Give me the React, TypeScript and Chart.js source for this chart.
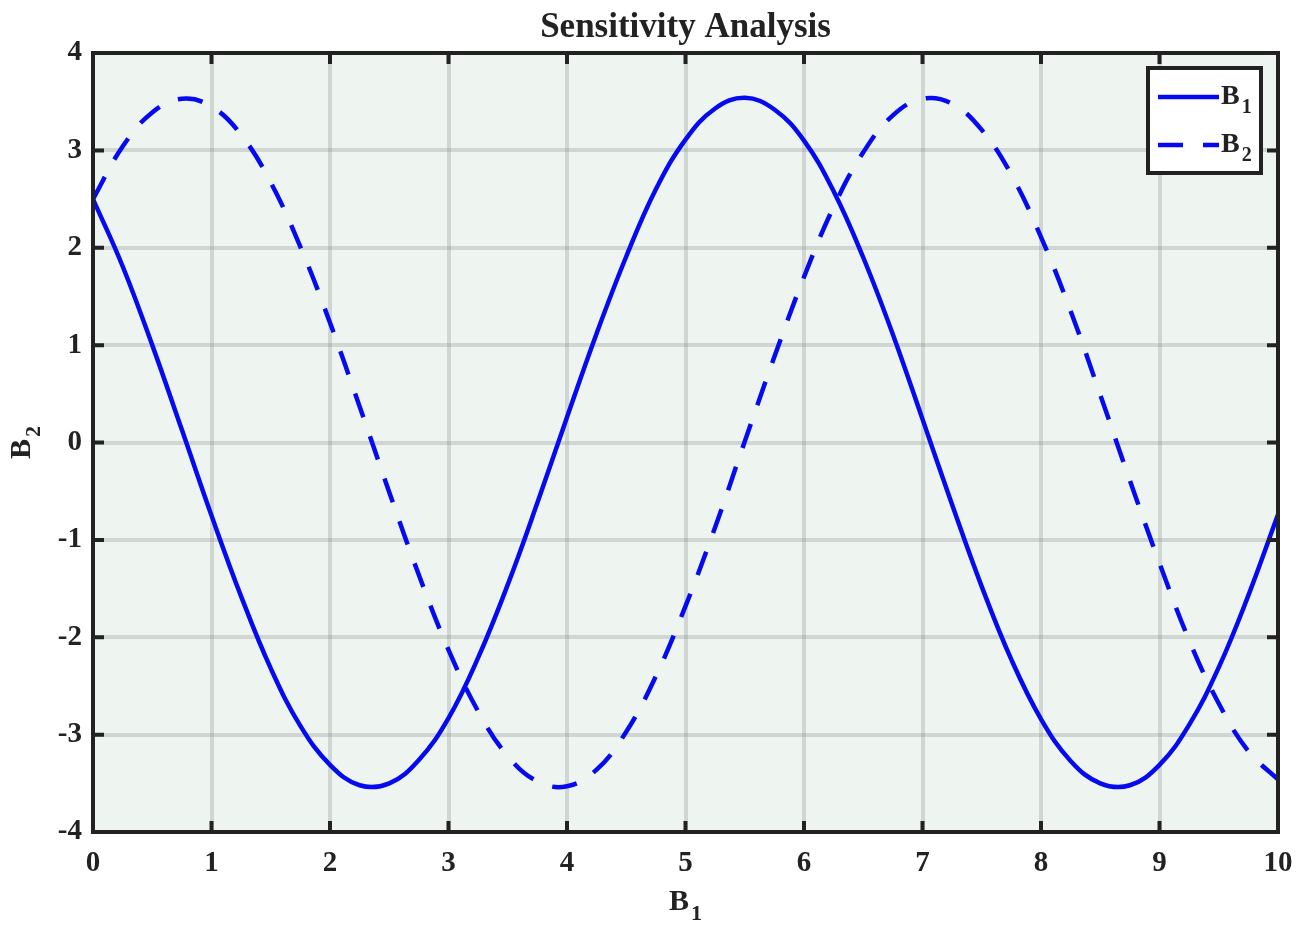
import React, { useEffect, useRef } from "react";
import { Chart, registerables } from "chart.js";

Chart.register(...registerables);

// ---- data ----
const xValues = [
  0, 0.25, 0.5, 0.75, 1, 1.25, 1.5, 1.75, 2, 2.25, 2.5, 2.75, 3, 3.25, 3.5, 3.75, 4,
  4.25, 4.5, 4.75, 5, 5.25, 5.5, 5.75, 6, 6.25, 6.5, 6.75, 7, 7.25, 7.5, 7.75, 8,
  8.25, 8.5, 8.75, 9, 9.25, 9.5, 9.75, 10,
];
const b1Values = [
  2.5, 1.81, 1.0, 0.13, -0.75, -1.58, -2.32, -2.91, -3.31, -3.52, -3.5, -3.26, -2.83,
  -2.21, -1.46, -0.62, 0.26, 1.12, 1.91, 2.6, 3.11, 3.43, 3.54, 3.42, 3.1, 2.58, 1.9,
  1.11, 0.24, -0.64, -1.48, -2.23, -2.84, -3.27, -3.5, -3.52, -3.31, -2.9, -2.31,
  -1.57, -0.74,
];
const b2Values = [
  2.5, 3.04, 3.39, 3.53, 3.45, 3.16, 2.67, 2.01, 1.23, 0.37, -0.51, -1.36, -2.13,
  -2.76, -3.22, -3.48, -3.53, -3.36, -2.97, -2.4, -1.68, -0.87, 0.01, 0.88, 1.7, 2.42,
  2.98, 3.36, 3.53, 3.48, 3.21, 2.75, 2.11, 1.35, 0.49, -0.39, -1.24, -2.03, -2.68,
  -3.17, -3.46,
];
const xTickValues = [0, 1, 2, 3, 4, 5, 6, 7, 8, 9, 10];
const yTickValues = [-4, -3, -2, -1, 0, 1, 2, 3, 4];
const seriesNames = ["B1", "B2"];
const titleText = "Sensitivity Analysis";
const xAxisTitle = ["B", "1"];
const yAxisTitle = ["B", "2"];

const FONT = "'Liberation Serif', 'Times New Roman', serif";
const LINE_COLOR = "rgb(5, 10, 240)";
const DARK = "#222222";
const DASH = [25, 20];

function drawSub(
  ctx: CanvasRenderingContext2D,
  base: string,
  sub: string,
  x: number,
  y: number,
  size: number,
  subSize: number,
  subDrop: number,
  align: "left" | "center"
) {
  ctx.font = `bold ${size}px ${FONT}`;
  const bw = ctx.measureText(base).width;
  ctx.font = `bold ${subSize}px ${FONT}`;
  const sw = ctx.measureText(sub).width;
  const total = bw + 2 + sw;
  const startX = align === "center" ? x - total / 2 : x;
  ctx.textAlign = "left";
  ctx.textBaseline = "middle";
  ctx.font = `bold ${size}px ${FONT}`;
  ctx.fillText(base, startX, y);
  ctx.font = `bold ${subSize}px ${FONT}`;
  ctx.fillText(sub, startX + bw + 2, y + subDrop);
}

const decorPlugin = {
  id: "decor",
  beforeDraw(chart: any) {
    const { ctx, chartArea } = chart;
    ctx.save();
    ctx.fillStyle = "#ffffff";
    ctx.fillRect(0, 0, chart.width, chart.height);
    ctx.fillStyle = "rgb(238, 245, 241)";
    ctx.fillRect(chartArea.left, chartArea.top, chartArea.right - chartArea.left, chartArea.bottom - chartArea.top);
    ctx.restore();
  },
  afterDraw(chart: any) {
    const { ctx, chartArea } = chart;
    const xs = chart.scales.x;
    const ys = chart.scales.y;
    const { left, right, top, bottom } = chartArea;
    ctx.save();
    ctx.strokeStyle = DARK;
    ctx.lineWidth = 4;
    // inward ticks
    const tl = 11;
    ctx.beginPath();
    xTickValues.forEach((v) => {
      const px = xs.getPixelForValue(v);
      ctx.moveTo(px, bottom);
      ctx.lineTo(px, bottom - tl);
      ctx.moveTo(px, top);
      ctx.lineTo(px, top + tl);
    });
    yTickValues.forEach((v) => {
      const py = ys.getPixelForValue(v);
      ctx.moveTo(left, py);
      ctx.lineTo(left + tl, py);
      ctx.moveTo(right, py);
      ctx.lineTo(right - tl, py);
    });
    ctx.stroke();
    // box
    ctx.strokeRect(left, top, right - left, bottom - top);

    // title
    ctx.fillStyle = DARK;
    ctx.font = `bold 35px ${FONT}`;
    ctx.textAlign = "center";
    ctx.textBaseline = "middle";
    ctx.fillText(titleText, (left + right) / 2, 28);

    // axis titles
    drawSub(ctx, xAxisTitle[0], xAxisTitle[1], (left + right) / 2, 902, 30, 22, 12, "center");
    ctx.save();
    ctx.translate(22, (top + bottom) / 2);
    ctx.rotate(-Math.PI / 2);
    drawSub(ctx, yAxisTitle[0], yAxisTitle[1], 0, 0, 30, 22, 12, "center");
    ctx.restore();

    // legend
    const lx = 1148, ly = 68, lw = 113, lh = 105;
    ctx.fillStyle = "#ffffff";
    ctx.fillRect(lx, ly, lw, lh);
    ctx.strokeStyle = DARK;
    ctx.lineWidth = 4;
    ctx.strokeRect(lx, ly, lw, lh);
    const rows = [97, 145];
    chart.data.datasets.forEach((ds: any, i: number) => {
      const ry = rows[i];
      ctx.save();
      ctx.strokeStyle = ds.borderColor;
      ctx.lineWidth = 4.5;
      ctx.setLineDash(ds.borderDash || []);
      ctx.beginPath();
      ctx.moveTo(1158, ry);
      ctx.lineTo(1219, ry);
      ctx.stroke();
      ctx.restore();
      ctx.fillStyle = DARK;
      const name = seriesNames[i];
      drawSub(ctx, name.slice(0, 1), name.slice(1), 1221, ry, 28, 20, 11, "left");
    });
    ctx.restore();
  },
};

export default function App() {
  const ref = useRef<HTMLCanvasElement | null>(null);
  useEffect(() => {
    if (!ref.current) return;
    const tickFont = { family: FONT, size: 29, weight: "bold" as const };
    const gridColor = "rgba(120, 128, 124, 0.25)";
    const chart = new Chart(ref.current, {
      type: "line",
      data: {
        datasets: [
          {
            label: seriesNames[0],
            data: xValues.map((x, i) => ({ x, y: b1Values[i] })),
            borderColor: LINE_COLOR,
            borderWidth: 4.5,
            pointRadius: 0,
            tension: 0.4,
            fill: false,
          },
          {
            label: seriesNames[1],
            data: xValues.map((x, i) => ({ x, y: b2Values[i] })),
            borderColor: LINE_COLOR,
            borderWidth: 4.5,
            borderDash: DASH,
            pointRadius: 0,
            tension: 0.4,
            fill: false,
          },
        ],
      },
      options: {
        animation: false,
        responsive: true,
        maintainAspectRatio: false,
        layout: { padding: { top: 53, right: 20, left: 0, bottom: 0 } },
        plugins: {
          legend: { display: false },
          title: { display: false },
          tooltip: { enabled: false },
        },
        scales: {
          x: {
            type: "linear",
            min: 0,
            max: 10,
            afterFit: (s: any) => {
              s.height = 104;
              s.paddingLeft = 0;
              s.paddingRight = 0;
            },
            afterBuildTicks: (s: any) => {
              s.ticks = xTickValues.map((v) => ({ value: v }));
            },
            ticks: {
              font: tickFont,
              color: DARK,
              padding: 14,
              maxRotation: 0,
              autoSkip: false,
            },
            grid: {
              color: gridColor,
              lineWidth: 4,
              drawTicks: false,
            },
            border: { display: false },
          },
          y: {
            type: "linear",
            min: -4,
            max: 4,
            afterFit: (s: any) => {
              s.width = 93;
              s.paddingTop = 0;
              s.paddingBottom = 0;
            },
            afterBuildTicks: (s: any) => {
              s.ticks = yTickValues.map((v) => ({ value: v }));
            },
            ticks: {
              font: tickFont,
              color: DARK,
              padding: 11,
              autoSkip: false,
            },
            grid: {
              color: gridColor,
              lineWidth: 4,
              drawTicks: false,
            },
            border: { display: false },
          },
        },
      },
      plugins: [decorPlugin],
    });
    return () => chart.destroy();
  }, []);
  return (
    <div style={{ position: "absolute", left: 0, top: 0, width: 1298, height: 936 }}>
      <canvas ref={ref} />
    </div>
  );
}
